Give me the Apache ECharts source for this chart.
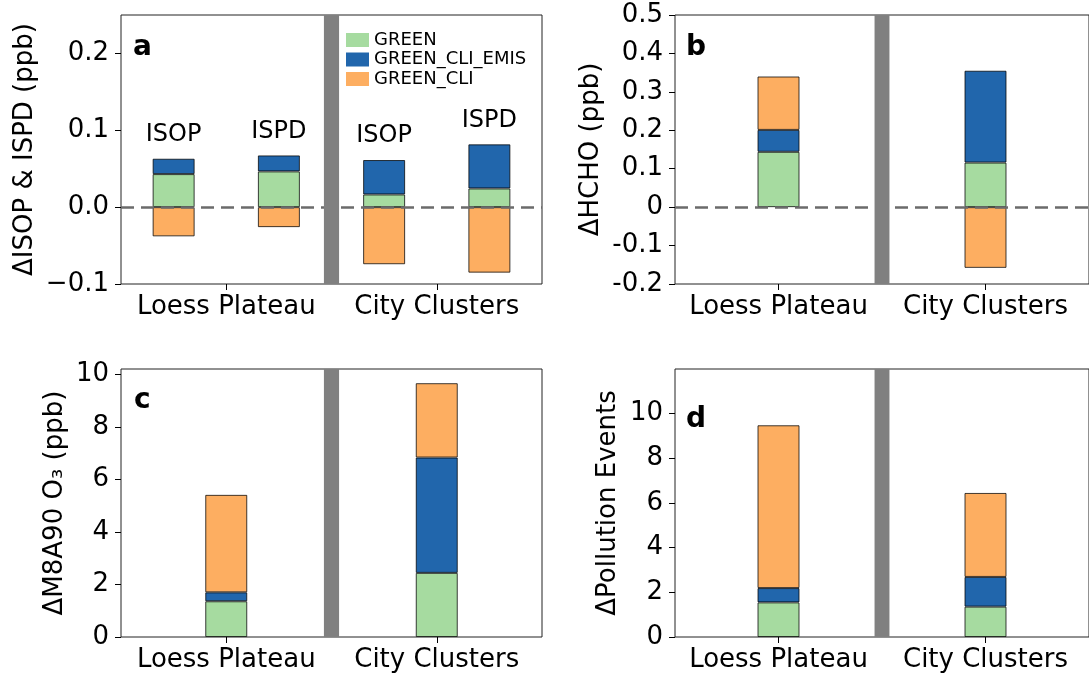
<!DOCTYPE html>
<html><head><meta charset="utf-8">
<script src="https://cdn.jsdelivr.net/npm/echarts@6/dist/echarts.min.js"></script>
<style>html,body{margin:0;padding:0;background:#fff}#c{width:1089px;height:675px}</style>
</head><body><div id="c"></div>
<script>
// ---------------- data ----------------
const regions = ['Loess Plateau', 'City Clusters'];
const regionTicks = [0, 1];
const seriesNames = ['GREEN', 'GREEN_CLI_EMIS', 'GREEN_CLI'];
const seriesColors = ['#a6dba0', '#2166ac', '#fdae61'];

// panel a (ISOP / ISPD)
const catsA = ['Loess ISOP', 'Loess ISPD', 'City ISOP', 'City ISPD'];
const barLabelsA = ['ISOP', 'ISPD', 'ISOP', 'ISPD'];
const greenA = [0.043, 0.0465, 0.0165, 0.0243];
const emisA = [0.020, 0.0208, 0.0448, 0.0574];
const cliA = [-0.038, -0.026, -0.0743, -0.0852];
const yTicksA = [-0.1, 0, 0.1, 0.2];
const yTickLabelsA = ['\u22120.1', '0.0', '0.1', '0.2'];

// panel b (HCHO)
const greenB = [0.144, 0.116];
const emisB = [0.057, 0.239];
const cliB = [0.139, -0.158];
const yTicksB = [-0.2, -0.1, 0, 0.1, 0.2, 0.3, 0.4, 0.5];
const yTickLabelsB = ['-0.2', '-0.1', '0', '0.1', '0.2', '0.3', '0.4', '0.5'];

// panel c (M8A90 O3)
const greenC = [1.36, 2.44];
const emisC = [0.34, 4.39];
const cliC = [3.71, 2.83];
const yTicksC = [0, 2, 4, 6, 8, 10];
const yTickLabelsC = ['0', '2', '4', '6', '8', '10'];

// panel d (pollution events)
const greenD = [1.55, 1.36];
const emisD = [0.64, 1.33];
const cliD = [7.29, 3.76];
const yTicksD = [0, 2, 4, 6, 8, 10];
const yTickLabelsD = ['0', '2', '4', '6', '8', '10'];

const panelLetters = ['a', 'b', 'c', 'd'];
const yTitles = ['\u0394ISOP & ISPD (ppb)', '\u0394HCHO (ppb)', '\u0394M8A90 O\u2083 (ppb)', '\u0394Pollution Events'];

// ---------------- layout / build ----------------
const FONT = 'DejaVu Sans';
const panels = [
  {cats: catsA, vals: [greenA, emisA, cliA], yt: yTicksA, yl: yTickLabelsA, min: -0.1, max: 0.25, grid: {left: 121, top: 15, width: 421, height: 269}, gap: 83, zero: true, labels: barLabelsA, letter: {x: 134, y: 48}},
  {cats: regions, vals: [greenB, emisB, cliB], yt: yTicksB, yl: yTickLabelsB, min: -0.2, max: 0.5, grid: {left: 675, top: 15, width: 421, height: 269}, gap: 71, zero: true, letter: {x: 687, y: 48}},
  {cats: regions, vals: [greenC, emisC, cliC], yt: yTicksC, yl: yTickLabelsC, min: 0, max: 10.2, grid: {left: 121, top: 369, width: 421, height: 268}, gap: 53, zero: false, letter: {x: 135, y: 401}},
  {cats: regions, vals: [greenD, emisD, cliD], yt: yTicksD, yl: yTickLabelsD, min: 0, max: 12, grid: {left: 675, top: 369, width: 421, height: 268}, gap: 54, zero: false, letter: {x: 687, y: 420}}
];

const grids = [], xAxes = [], yAxes = [], series = [], graphics = [];
function lookup(ticks, labels, v) {
  for (let i = 0; i < ticks.length; i++) if (Math.abs(ticks[i] - v) < 1e-9) return labels[i];
  return '';
}
panels.forEach((p, k) => {
  grids.push(Object.assign({show: true, borderColor: '#222', borderWidth: 1, backgroundColor: 'transparent'}, p.grid));
  // hidden category axis carrying the bars
  xAxes.push({type: 'category', gridIndex: k, data: p.cats, show: false, boundaryGap: true,
    axisLine: {show: false, onZero: false}});
  // visible value axis carrying region ticks
  xAxes.push({
    type: 'value', gridIndex: k, min: -0.5, max: 1.5, position: 'bottom',
    axisLine: {show: false, onZero: false}, splitLine: {show: false},
    axisTick: {show: true, customValues: regionTicks, length: 6, lineStyle: {color: '#000', width: 1}},
    axisLabel: {show: true, customValues: regionTicks, margin: 10, fontSize: 26, color: '#000', fontFamily: FONT,
      formatter: v => lookup(regionTicks, regions, v)}
  });
  yAxes.push({
    type: 'value', gridIndex: k, min: p.min, max: p.max, position: 'left',
    name: yTitles[k], nameLocation: 'middle', nameRotate: 90, nameGap: p.gap,
    nameTextStyle: {fontSize: 26, color: '#000', fontFamily: FONT},
    axisLine: {show: false, onZero: false}, splitLine: {show: false},
    axisTick: {show: true, customValues: p.yt, length: 6, lineStyle: {color: '#000', width: 1}},
    axisLabel: {show: true, customValues: p.yt, margin: 12, fontSize: 26, color: '#000', fontFamily: FONT,
      formatter: v => lookup(p.yt, p.yl, v)}
  });
  p.vals.forEach((arr, i) => {
    const s = {
      type: 'bar', name: seriesNames[i], xAxisIndex: 2 * k, yAxisIndex: k, stack: 'p' + k,
      barWidth: 42, data: arr, z: 2,
      itemStyle: {color: seriesColors[i], borderColor: 'rgba(0,0,0,0.75)', borderWidth: 1},
      emphasis: {disabled: true}, silent: true
    };
    if (p.labels && i === 1) {
      s.label = {show: true, position: 'top', distance: 12, fontSize: 24, color: '#000', fontFamily: FONT,
        formatter: prm => p.labels[prm.dataIndex]};
    }
    series.push(s);
  });
  if (p.zero) {
    series.push({
      type: 'line', xAxisIndex: 2 * k + 1, yAxisIndex: k, data: [], z: 5, silent: true,
      markLine: {silent: true, z: 5, symbol: ['none', 'none'], label: {show: false},
        lineStyle: {color: '#6b6b6b', width: 2.7, type: [13, 7]}, emphasis: {disabled: true},
        data: [{yAxis: 0}]}
    });
  }
  series.push({
    type: 'line', xAxisIndex: 2 * k + 1, yAxisIndex: k, data: [], z: 10, silent: true,
    markArea: {silent: true, z: 10, itemStyle: {color: '#808080'}, label: {show: false}, emphasis: {disabled: true},
      data: [[{xAxis: 0.464}, {xAxis: 0.536}]]}
  });
  graphics.push({type: 'text', left: p.letter.x - 1, top: p.letter.y - 14, z: 20,
    style: {text: panelLetters[k], fontSize: 28, fontWeight: 'bold', fontFamily: FONT, fill: '#000'}});
});

const chart = echarts.init(document.getElementById('c'), null, {renderer: 'canvas'});
chart.setOption({
  animation: false,
  backgroundColor: '#fff',
  textStyle: {fontFamily: FONT},
  grid: grids, xAxis: xAxes, yAxis: yAxes, series: series, graphic: graphics,
  legend: {
    data: seriesNames, orient: 'vertical', left: 346, top: 31, padding: 0,
    itemWidth: 23, itemHeight: 14, itemGap: 1.5, icon: 'rect', selectedMode: false,
    itemStyle: {borderWidth: 0},
    textStyle: {fontSize: 18, color: '#000', fontFamily: FONT, lineHeight: 18}
  }
});
</script></body></html>
